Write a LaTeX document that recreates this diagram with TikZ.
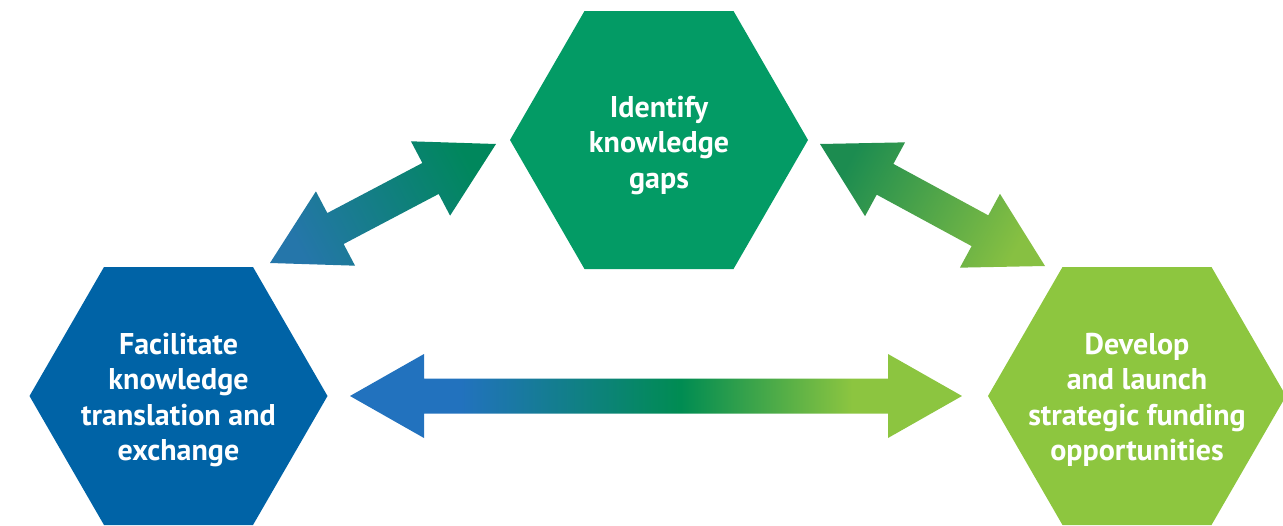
\documentclass[tikz,border=0pt]{standalone}
\usepackage{fontspec}
\setmainfont{PT Sans}
\usetikzlibrary{calc}
\definecolor{hexgreen}{RGB}{3,155,101}
\definecolor{hexblue}{RGB}{0,99,166}
\definecolor{hexlime}{RGB}{141,198,63}
\definecolor{arblue}{RGB}{34,114,190}
\definecolor{armid}{RGB}{0,140,82}
\definecolor{arlime}{RGB}{140,197,64}
\definecolor{dblue}{RGB}{37,118,170}
\definecolor{dgreen}{RGB}{0,135,92}
\definecolor{rgreen}{RGB}{28,140,80}
\definecolor{rlime}{RGB}{135,192,66}
\pgfdeclarehorizontalshading{hgrad}{100bp}{color(0bp)=(arblue); color(34bp)=(arblue); color(52bp)=(armid); color(66bp)=(arlime); color(100bp)=(arlime)}
\newcommand\hexshape[2]{%
  \fill[#2] ($(#1)+(-149,0)$) -- ($(#1)+(-74.5,-129)$) -- ($(#1)+(74.5,-129)$) --
    ($(#1)+(149,0)$) -- ($(#1)+(74.5,129)$) -- ($(#1)+(-74.5,129)$) -- cycle;}
\newcommand\dblarrow[3]{%
  \path[#3] (#1)
    -- ($(#1)!74pt!(#2)!42pt!90:(#2)$)
    -- ($(#1)!74pt!(#2)!17.5pt!90:(#2)$)
    -- ($(#2)!74pt!(#1)!17.5pt!-90:(#1)$)
    -- ($(#2)!74pt!(#1)!42pt!-90:(#1)$)
    -- (#2)
    -- ($(#2)!74pt!(#1)!42pt!90:(#1)$)
    -- ($(#2)!74pt!(#1)!17.5pt!90:(#1)$)
    -- ($(#1)!74pt!(#2)!17.5pt!-90:(#2)$)
    -- ($(#1)!74pt!(#2)!42pt!-90:(#2)$)
    -- cycle;}
\tikzset{
  hextext/.style={text=white, align=center, font=\fontsize{30}{35.5}\selectfont\bfseries, inner sep=0pt}
}
\begin{document}
\begin{tikzpicture}[x=1pt,y=-1pt]
\useasboundingbox (0,0) rectangle (1283,525);
% hexagon centres
\coordinate (T) at (659,140);
\coordinate (L) at (178.5,396);
\coordinate (R) at (1137,396);
\hexshape{T}{hexgreen}
\hexshape{L}{hexblue}
\hexshape{R}{hexlime}
\node[hextext] (tT) at (659,145.5) {Identify\\knowledge\\gaps};
\node[hextext] (tL) at (178.5,400) {Facilitate\\knowledge\\translation and\\exchange};
\node[hextext] (tR) at (1137,400) {Develop\\and launch\\strategic funding\\opportunities};
% arrow tips
\coordinate (a1) at (270,263);
\coordinate (a2) at (496,144);
\coordinate (b1) at (820,144);
\coordinate (b2) at (1045,266);
\coordinate (c1) at (350,396);
\coordinate (c2) at (962,396);
\dblarrow{a1}{a2}{top color=dblue, bottom color=dgreen, shading angle=117.8}
\dblarrow{b1}{b2}{top color=rgreen, bottom color=rlime, shading angle=61.5}
\dblarrow{c1}{c2}{shading=hgrad}
\end{tikzpicture}
\end{document}
